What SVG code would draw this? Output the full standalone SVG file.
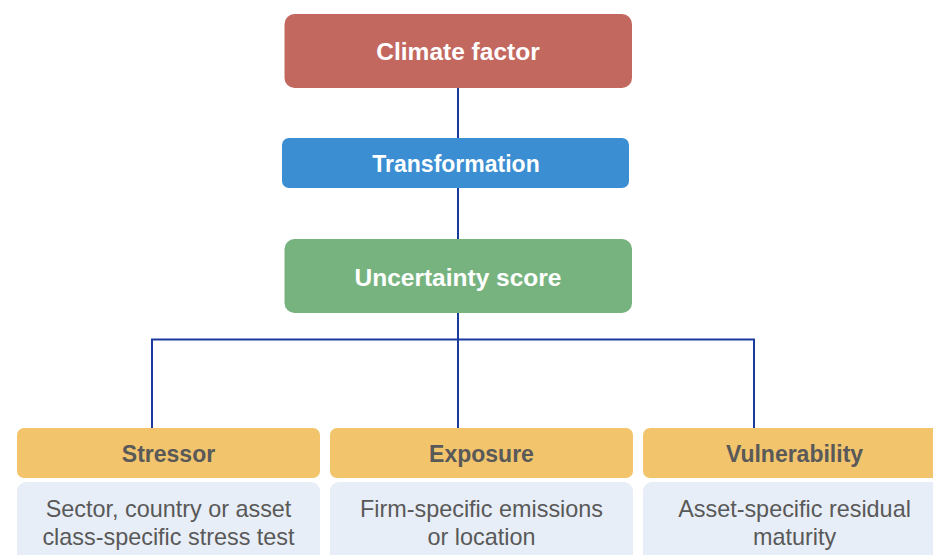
<svg xmlns="http://www.w3.org/2000/svg" width="933" height="555" viewBox="0 0 933 555">
  <style>
    .lbl { font-family: "Liberation Sans", Arial, sans-serif; font-weight: bold; text-anchor: middle; }
    .white { fill: #ffffff; font-size: 24.5px; }
    .head { fill: #595959; font-size: 23px; }
    .body { font-family: "Liberation Sans", Arial, sans-serif; fill: #595959; font-size: 23.4px; text-anchor: middle; }
    .conn { fill: none; stroke: #1a3aa0; stroke-width: 2; }
    .hdr { fill: #f2c46c; }
    .desc { fill: #e8eef7; }
  </style>

  <g id="connectors">
    <line class="conn" x1="458" y1="88" x2="458" y2="138"/>
    <line class="conn" x1="458" y1="188" x2="458" y2="239"/>
    <line class="conn" x1="458" y1="313" x2="458" y2="428"/>
    <polyline class="conn" points="152,428 152,339.5 754,339.5 754,428"/>
  </g>

  <g id="climate-factor">
    <rect x="284.5" y="14" width="347.5" height="74" rx="10" fill="#c2685f"/>
    <text class="lbl white" x="458" y="60">Climate factor</text>
  </g>

  <g id="transformation">
    <rect x="282" y="138" width="347" height="50" rx="7" fill="#3a8ed1"/>
    <text class="lbl white" x="456" y="171.5" style="font-size:23px">Transformation</text>
  </g>

  <g id="uncertainty-score">
    <rect x="284.5" y="239" width="347.5" height="74" rx="10" fill="#77b37f"/>
    <text class="lbl white" x="458" y="285.5">Uncertainty score</text>
  </g>

  <g id="stressor">
    <rect class="hdr" x="17" y="428" width="303" height="50" rx="7"/>
    <text class="lbl head" x="168.5" y="462">Stressor</text>
    <rect class="desc" x="17" y="482" width="303" height="100" rx="9"/>
    <text class="body" x="168.5" y="517">Sector, country or asset</text>
    <text class="body" x="168.5" y="545">class-specific stress test</text>
  </g>

  <g id="exposure">
    <rect class="hdr" x="330" y="428" width="303" height="50" rx="7"/>
    <text class="lbl head" x="481.5" y="462">Exposure</text>
    <rect class="desc" x="330" y="482" width="303" height="100" rx="9"/>
    <text class="body" x="481.5" y="517">Firm-specific emissions</text>
    <text class="body" x="481.5" y="545">or location</text>
  </g>

  <g id="vulnerability">
    <rect class="hdr" x="643" y="428" width="303" height="50" rx="7"/>
    <text class="lbl head" x="794.5" y="462">Vulnerability</text>
    <rect class="desc" x="643" y="482" width="303" height="100" rx="9"/>
    <text class="body" x="794.5" y="517">Asset-specific residual</text>
    <text class="body" x="794.5" y="545">maturity</text>
  </g>
</svg>
